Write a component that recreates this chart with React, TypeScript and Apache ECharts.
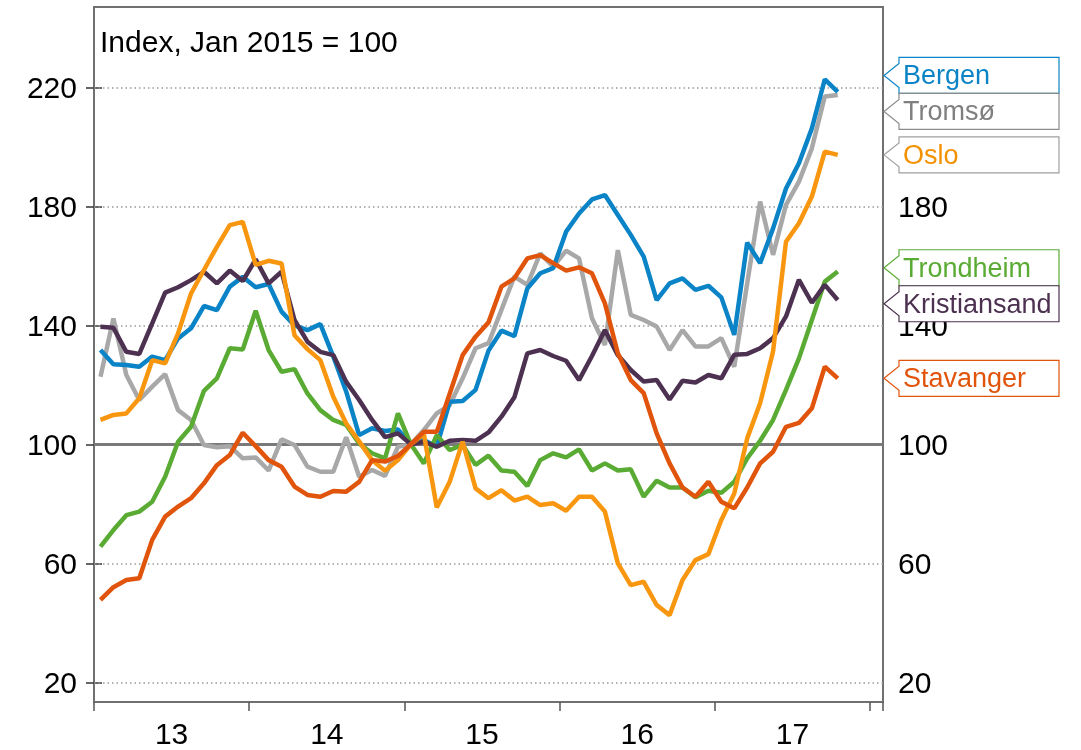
import React, { useEffect, useRef } from "react";
import * as echarts from "echarts";

const title = "Index, Jan 2015 = 100";
const yearLabels = ["13", "14", "15", "16", "17"];
const yTicks = [20, 60, 100, 140, 180, 220];
const yTicksRightLabels = [20, 60, 100, 140, 180];

const bergen = [
  131.7, 126.9, 126.7, 126.1, 129.5, 128.3, 135.6, 139, 146.5, 145.1, 153, 156.3, 152.8, 153.9, 144.6,
  140, 138.4, 140.4, 129.5, 117.7, 103.1, 105.4, 104.5, 105, 100, 101.5, 99.2, 114.3, 114.6, 118.3,
  131.5, 138.2, 136.4, 152.4, 157.5, 159.2, 171.5, 177.6, 182.3, 183.8, 177.1, 170.4, 163.1, 148.5, 154.1, 155.8,
  151.9, 153.3, 149.4, 136.8, 167.8, 160.9, 172.6, 186, 194.5, 206.2, 222.7, 218.5,
];
const tromso = [
  122.7, 142.3, 123.3, 114.9, 119.4, 123.6, 111.5, 108.2, 99.8, 99, 99.4, 95.3, 95.6, 91.2, 101.7,
  99.8, 92.5, 90.8, 90.8, 102.4, 89.1, 91.4, 89.4, 99.2, 100, 104.8, 110.4, 113.2, 122.2, 132.3,
  134, 145.2, 156.4, 153.6, 164.2, 159.7, 165.1, 162.5, 142.4, 133.4, 165.3, 143.5, 141.8, 139.6, 131.7, 138.4,
  132.9, 132.9, 135.7, 126.1, 154.1, 181.6, 163.7, 180.5, 188.3, 199.5, 216.9, 217.4,
];
const oslo = [
  108.2, 109.9, 110.4, 115.5, 128.3, 127.2, 137.3, 150.7, 158.6, 166.4, 173.7, 174.8, 160.3, 161.7, 160.8,
  136.7, 132, 128.3, 116, 107, 101, 94.7, 91.1, 94.7, 100, 103.5, 78.8, 87.4, 100.9, 85.2,
  81.9, 84.6, 81.1, 82.4, 79.6, 80.2, 77.7, 82.4, 82.4, 77.4, 60, 52.7, 53.8, 46, 42.6, 54.4,
  61.1, 63.1, 74.6, 83.5, 102, 113.8, 131.2, 168.1, 174.3, 183.3, 198.4, 197.3,
];
const trondheim = [
  65.6, 71.2, 76.2, 77.4, 80.7, 89.1, 100.9, 105.9, 118, 122.2, 132.3, 131.9, 144.9, 131.7, 124.4,
  125.3, 117.1, 111.5, 108.2, 106.5, 100.3, 97, 95.3, 110.4, 100, 93.6, 103.1, 98.1, 99.8, 93.1,
  96.2, 91.2, 90.8, 86, 94.7, 97, 95.6, 98.3, 91.2, 93.6, 91.2, 91.6, 82.4, 87.8, 85.5, 85.5,
  82.2, 84.4, 83.7, 87.4, 95.3, 101.2, 108.2, 118.3, 128.9, 141.8, 154.7, 158.1,
];
const kristiansand = [
  139.5, 139.2, 131.1, 130.4, 140.7, 151, 152.8, 155.2, 158, 154.1, 158.4, 154.9, 162.2, 154.1, 158,
  141.8, 134.5, 131.1, 130, 121, 114.9, 108.2, 102.4, 103.7, 100, 100.9, 99.2, 101.2, 101.5, 101.2,
  104, 109.3, 115.8, 130.6, 131.7, 129.7, 128.1, 121.6, 129.7, 138.4, 130, 125, 121.1, 121.6, 115.1, 121.4,
  120.8, 123.3, 122.2, 130.1, 130.4, 132.3, 135.7, 143, 155.3, 147.6, 153.6, 148.5,
];
const stavanger = [
  47.7, 52, 54.4, 55, 67.9, 75.7, 79.1, 81.9, 86.9, 93, 96.4, 103.9, 99.4, 94.7, 92.5,
  85.8, 83, 82.4, 84.3, 84.1, 87.4, 94.7, 94.2, 96.1, 100, 104.2, 104.2, 117, 130, 136.2,
  141, 153, 155.8, 162.5, 163.6, 160.9, 158.4, 159.5, 157.5, 147.4, 130.6, 121.6, 117.2, 103.7, 93.6, 85.5,
  82.4, 87.4, 80.7, 78.5, 85.5, 93.6, 97.5, 105.9, 107.2, 112.1, 126.1, 122.2,
];

const cities = [
  { name: "Bergen", values: bergen, color: "#0a84c6", text: "#0a84c6", border: "#0a84c6" },
  { name: "Tromsø", values: tromso, color: "#a8a8a8", text: "#808080", border: "#8c8c8c" },
  { name: "Oslo", values: oslo, color: "#f8970f", text: "#f39200", border: "#a0a0a0" },
  { name: "Trondheim", values: trondheim, color: "#5aab34", text: "#5aab34", border: "#5aab34" },
  { name: "Kristiansand", values: kristiansand, color: "#4d3151", text: "#4d3151", border: "#4d3151" },
  { name: "Stavanger", values: stavanger, color: "#e0540c", text: "#e0540c", border: "#e0540c" },
];
const drawOrder = ["Tromsø", "Bergen", "Trondheim", "Kristiansand", "Oslo", "Stavanger"];

const FONT = '"Liberation Sans", Arial, sans-serif';

export default function App() {
  const ref = useRef<HTMLDivElement>(null);
  useEffect(() => {
    const chart = echarts.init(ref.current!, null, { renderer: "svg" });
    const ordered = drawOrder.map((n) => cities.find((c) => c.name === n)!);
    const series: any[] = ordered.map((c, idx) => ({
      type: "line",
      name: c.name,
      data: c.values.map((v, i) => [i + 0.5, v]),
      showSymbol: false,
      symbol: "none",
      lineStyle: { color: c.color, width: 4.5 },
      itemStyle: { color: c.color },
      z: 3,
      markLine:
        idx === 0
          ? {
              silent: true,
              z: 1,
              symbol: ["none", "none"],
              label: { show: false },
              data: yTicks.map((v) => ({
                yAxis: v,
                lineStyle:
                  v === 100
                    ? { type: "solid", color: "#7a7a7a", width: 3 }
                    : { type: [1.5, 3], color: "#9a9a9a", width: 1.5 },
              })),
            }
          : undefined,
    }));
    const yAxisBase = {
      type: "value",
      min: 13.4,
      max: 247,
      axisLine: { show: false },
      splitLine: { show: false },
      axisTick: { show: true, customValues: yTicks, length: 8, lineStyle: { color: "#333", width: 1.5 } },
    };
    chart.setOption({
      animation: false,
      grid: {
        left: 94,
        right: 198,
        top: 7,
        bottom: 48,
        show: true,
        borderColor: "#707070",
        borderWidth: 2,
        backgroundColor: "transparent",
      },
      xAxis: [
        {
          type: "value",
          min: 0,
          max: 61,
          interval: 12,
          position: "bottom",
          axisLine: { show: true, lineStyle: { color: "#707070", width: 2 } },
          axisTick: { show: true, length: 9, inside: false, lineStyle: { color: "#555", width: 1.5 } },
          axisLabel: { show: false },
          splitLine: { show: false },
        },
        {
          type: "value",
          min: 0,
          max: 61,
          interval: 6,
          position: "bottom",
          axisLine: { show: false },
          axisTick: { show: false },
          splitLine: { show: false },
          axisLabel: {
            margin: 16,
            fontSize: 30,
            fontFamily: FONT,
            color: "#000",
            formatter: (v: number) => (v % 12 === 6 ? yearLabels[(v - 6) / 12] ?? "" : ""),
          },
        },
      ],
      yAxis: [
        {
          ...yAxisBase,
          position: "left",
          axisLabel: { customValues: yTicks, margin: 17, fontSize: 30, fontFamily: FONT, color: "#000" },
        },
        {
          ...yAxisBase,
          position: "right",
          axisLabel: { customValues: yTicksRightLabels, margin: 15, fontSize: 30, fontFamily: FONT, color: "#000" },
        },
      ],
      series,
    });

    // end labels with simple de-overlap
    const gridRight = chart.convertToPixel({ xAxisIndex: 0 }, 61) as number;
    const H = 36;
    const items = cities.map((c) => ({
      c,
      want: chart.convertToPixel({ yAxisIndex: 0 }, c.values[c.values.length - 1]) as number,
      y: 0,
    }));
    items.sort((a, b) => a.want - b.want);
    let clusters = items.map((it) => ({ members: [it], center: it.want }));
    let changed = true;
    while (changed) {
      changed = false;
      for (let i = 0; i < clusters.length - 1; i++) {
        const a = clusters[i];
        const b = clusters[i + 1];
        const aBottom = a.center + (a.members.length * H) / 2;
        const bTop = b.center - (b.members.length * H) / 2;
        if (aBottom > bTop) {
          const members = [...a.members, ...b.members];
          const mean = members.reduce((s, m) => s + m.want, 0) / members.length;
          clusters.splice(i, 2, { members, center: mean });
          changed = true;
          break;
        }
      }
    }
    clusters.forEach((cl) => {
      const top = cl.center - (cl.members.length * H) / 2;
      cl.members.forEach((m, k) => (m.y = top + H * k + H / 2));
    });

    const tip = gridRight + 1;
    const boxL = tip + 15;
    const boxR = boxL + 160;
    const graphic: any[] = [
      {
        type: "text",
        left: 100,
        top: 26,
        z: 50,
        style: { text: title, fill: "#000", fontSize: 30, fontFamily: FONT },
      },
    ];
    items.forEach((it) => {
      const y = it.y;
      graphic.push({
        type: "polygon",
        z: 60,
        shape: {
          points: [
            [boxL, y - H / 2],
            [boxR, y - H / 2],
            [boxR, y + H / 2],
            [boxL, y + H / 2],
            [boxL, y + 12],
            [tip, y],
            [boxL, y - 12],
          ],
        },
        style: { fill: "#fff", stroke: it.c.border, lineWidth: 1.2 },
      });
      graphic.push({
        type: "text",
        z: 61,
        x: boxL + 4,
        y: y,
        style: {
          text: it.c.name,
          fill: it.c.text,
          fontSize: 27,
          fontFamily: FONT,
          verticalAlign: "middle",
          textVerticalAlign: "middle",
        },
      });
    });
    chart.setOption({ graphic });
    return () => chart.dispose();
  }, []);
  return <div ref={ref} style={{ position: "fixed", left: 0, top: 0, width: 1081, height: 750 }} />;
}
